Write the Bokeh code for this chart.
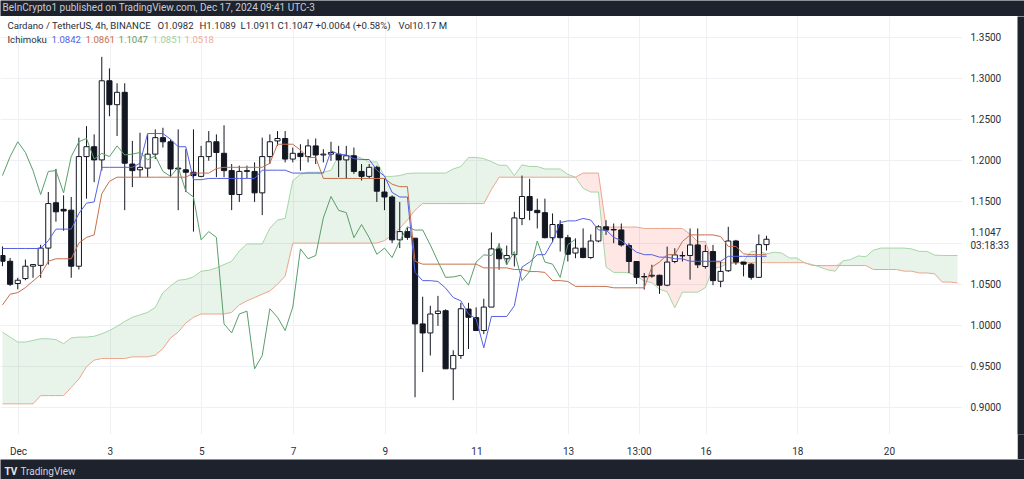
import numpy as np
from bokeh.plotting import figure
from bokeh.models import Range1d, FixedTicker, Label, ColumnDataSource
from bokeh.layouts import column, row
from bokeh.embed import file_html
from bokeh.resources import INLINE

# ---------------- data (ADA/USDT 4h) ----------------
opens = [1.085, 1.078, 1.051, 1.057, 1.072, 1.073, 1.094, 1.149, 1.141, 1.140,
         1.072, 1.205, 1.217, 1.201, 1.297, 1.268, 1.283, 1.196, 1.189, 1.191,
         1.208, 1.228, 1.223, 1.191, 1.189, 1.186, 1.181, 1.205, 1.223, 1.209,
         1.188, 1.159, 1.187, 1.187, 1.161, 1.205, 1.224, 1.227, 1.202, 1.209,
         1.205, 1.218, 1.207, 1.208, 1.208, 1.201, 1.206, 1.187, 1.181, 1.192,
         1.162, 1.156, 1.104, 1.114, 1.106, 1.002, 0.991, 1.0146, 1.018, 0.9475,
         0.9636, 1.020, 1.0096, 0.994, 1.0224, 1.093, 1.081, 1.086, 1.1298, 1.1566,
         1.1398, 1.137, 1.1066, 1.1226, 1.1066, 1.088, 1.0938, 1.0825, 1.1026, 1.1198,
         1.1166, 1.116, 1.097, 1.0777, 1.0595, 1.0600, 1.061, 1.049, 1.0777, 1.0845,
         1.085, 1.0978, 1.0717, 1.0898, 1.0537, 1.0665, 1.1026, 1.077, 1.0745, 1.0585,
         1.0982]
highs = [1.096, 1.082, 1.058, 1.080, 1.0745, 1.098, 1.162, 1.190, 1.158, 1.156,
         1.228, 1.242, 1.232, 1.326, 1.312, 1.294, 1.294, 1.224, 1.234, 1.232,
         1.238, 1.240, 1.226, 1.238, 1.214, 1.238, 1.218, 1.236, 1.232, 1.243,
         1.196, 1.194, 1.194, 1.198, 1.228, 1.232, 1.236, 1.236, 1.216, 1.220,
         1.226, 1.227, 1.214, 1.223, 1.218, 1.218, 1.216, 1.196, 1.196, 1.194,
         1.178, 1.158, 1.150, 1.119, 1.106, 1.035, 1.024, 1.036, 1.0196, 0.970,
         1.0276, 1.0276, 1.022, 1.0325, 1.113, 1.0998, 1.097, 1.138, 1.182, 1.178,
         1.154, 1.154, 1.136, 1.1278, 1.110, 1.1058, 1.1178, 1.1106, 1.1218, 1.1278,
         1.1238, 1.1238, 1.0998, 1.0777, 1.0637, 1.0737, 1.0617, 1.0958, 1.0938, 1.0898,
         1.1178, 1.1178, 1.0978, 1.0978, 1.0777, 1.1198, 1.104, 1.077, 1.0757, 1.1106,
         1.1089]
lows = [1.072, 1.048, 1.044, 1.055, 1.058, 1.058, 1.074, 1.126, 1.115, 1.058,
        1.068, 1.154, 1.174, 1.188, 1.254, 1.230, 1.140, 1.168, 1.180, 1.180,
        1.202, 1.216, 1.180, 1.140, 1.162, 1.114, 1.180, 1.200, 1.180, 1.180,
        1.140, 1.150, 1.179, 1.150, 1.134, 1.196, 1.218, 1.198, 1.198, 1.188,
        1.198, 1.196, 1.198, 1.200, 1.180, 1.178, 1.184, 1.176, 1.178, 1.150,
        1.140, 1.100, 1.094, 1.104, 0.913, 0.9435, 0.9636, 0.9996, 0.9475, 0.9095,
        0.9595, 0.9716, 0.994, 0.9896, 1.0224, 1.0677, 1.0737, 1.0717, 1.1218, 1.1278,
        1.1178, 1.1058, 1.101, 1.0898, 1.0778, 1.0817, 1.0817, 1.081, 1.101, 1.110,
        1.100, 1.0958, 1.0637, 1.0505, 1.0437, 1.058, 1.0385, 1.0477, 1.0757, 1.0777,
        1.0557, 1.0697, 1.069, 1.049, 1.0465, 1.065, 1.0737, 1.0597, 1.0557, 1.0577,
        1.0911]
closes = [1.078, 1.050, 1.055, 1.072, 1.074, 1.094, 1.148, 1.138, 1.139, 1.072,
          1.205, 1.217, 1.201, 1.297, 1.268, 1.283, 1.197, 1.188, 1.192, 1.208,
          1.228, 1.223, 1.190, 1.190, 1.186, 1.182, 1.205, 1.223, 1.210, 1.188,
          1.159, 1.187, 1.188, 1.161, 1.205, 1.223, 1.227, 1.202, 1.209, 1.205,
          1.218, 1.207, 1.208, 1.210, 1.201, 1.206, 1.187, 1.181, 1.192, 1.163,
          1.156, 1.104, 1.114, 1.107, 1.002, 0.991, 1.014, 1.0175, 0.9475, 0.9636,
          1.0204, 1.010, 0.994, 1.0224, 1.093, 1.081, 1.085, 1.1306, 1.1566, 1.1398,
          1.137, 1.1066, 1.1226, 1.1066, 1.0865, 1.094, 1.0825, 1.1026, 1.1198, 1.1158,
          1.1160, 1.0978, 1.0777, 1.0585, 1.0590, 1.0610, 1.049, 1.077, 1.0857, 1.0850,
          1.0978, 1.0737, 1.0898, 1.0545, 1.0657, 1.1026, 1.077, 1.0745, 1.0585, 1.0982,
          1.1047]

# Ichimoku lines (one value per 4h bar)
tenkan = [1.0935, 1.0935, 1.0935, 1.0935, 1.0935, 1.0935, 1.103, 1.117, 1.117, 1.117,
          1.136, 1.1485, 1.150, 1.192, 1.192, 1.192, 1.192, 1.192, 1.197, 1.233,
          1.233, 1.233, 1.226, 1.217, 1.217, 1.177, 1.177, 1.1785, 1.1785, 1.1785,
          1.1785, 1.1785, 1.1785, 1.1785, 1.1885, 1.1885, 1.1885, 1.1885, 1.185, 1.185,
          1.185, 1.185, 1.185, 1.212, 1.208, 1.207, 1.2025, 1.2015, 1.2015, 1.1885,
          1.1815, 1.1615, 1.156, 1.156, 1.0645, 1.0545, 1.0545, 1.0535, 1.0455, 1.034,
          1.030, 1.014, 1.008, 0.973, 1.011, 1.011, 1.011, 1.024, 1.071, 1.077,
          1.086, 1.086, 1.102, 1.125, 1.127, 1.127, 1.130, 1.128, 1.116, 1.116,
          1.107, 1.103, 1.096, 1.089, 1.086, 1.086, 1.083, 1.083, 1.081, 1.081,
          1.078, 1.078, 1.078, 1.078, 1.078, 1.084, 1.084, 1.084, 1.084, 1.084,
          1.084]
kijun = [1.025, 1.038, 1.040, 1.046, 1.054, 1.062, 1.078, 1.081, 1.081, 1.081,
         1.100, 1.107, 1.110, 1.160, 1.175, 1.180, 1.180, 1.180, 1.180, 1.180,
         1.180, 1.180, 1.180, 1.180, 1.180, 1.185, 1.185, 1.185, 1.1905, 1.192,
         1.192, 1.192, 1.192, 1.192, 1.192, 1.197, 1.220, 1.220, 1.220, 1.213,
         1.204, 1.204, 1.1785, 1.1785, 1.1785, 1.1785, 1.1785, 1.1785, 1.1785, 1.1785,
         1.1785, 1.1715, 1.1685, 1.1685, 1.078, 1.0745, 1.0745, 1.0745, 1.0745, 1.0745,
         1.0745, 1.0745, 1.0745, 1.070, 1.070, 1.070, 1.070, 1.068, 1.068, 1.0655,
         1.0655, 1.0645, 1.0545, 1.0545, 1.0535, 1.0475, 1.0475, 1.0475, 1.0475, 1.0475,
         1.0458, 1.0458, 1.0458, 1.0458, 1.0458, 1.071, 1.077, 1.086, 1.086, 1.102,
         1.110, 1.110, 1.110, 1.110, 1.108, 1.096, 1.096, 1.087, 1.086, 1.086,
         1.086]
# leading spans, already at their plotted (forward-shifted) bar positions
span_a = [0.992, 0.986, 0.980, 0.980, 0.982, 0.984, 0.984, 0.983, 0.978, 0.985,
          0.986, 0.986, 0.987, 0.990, 0.994, 0.999, 1.005, 1.010, 1.013, 1.016,
          1.022, 1.040, 1.048, 1.055, 1.056, 1.059, 1.066, 1.067, 1.070, 1.074,
          1.078, 1.0905, 1.099, 1.099, 1.099, 1.118, 1.128, 1.130, 1.176, 1.1835,
          1.186, 1.186, 1.186, 1.1885, 1.2065, 1.2065, 1.2065, 1.203, 1.1985, 1.1985,
          1.181, 1.181, 1.182, 1.1845, 1.185, 1.185, 1.185, 1.185, 1.185, 1.190,
          1.193, 1.204, 1.204, 1.2025, 1.199, 1.1945, 1.1945, 1.182, 1.195, 1.193,
          1.193, 1.190, 1.190, 1.190, 1.1835, 1.180, 1.1665, 1.162, 1.162, 1.071,
          1.0645, 1.0645, 1.064, 1.060, 1.054, 1.052, 1.044, 1.041, 1.0215, 1.0405,
          1.0405, 1.0405, 1.046, 1.0695, 1.071, 1.076, 1.075, 1.078, 1.090, 1.090,
          1.087, 1.089, 1.088, 1.082, 1.082, 1.076, 1.074, 1.071, 1.0675, 1.066,
          1.0785, 1.080, 1.0845, 1.0835, 1.0915, 1.094, 1.094, 1.094, 1.094, 1.093,
          1.090, 1.090, 1.0855, 1.085, 1.085, 1.085]
span_b = [0.905, 0.905, 0.905, 0.905, 0.905, 0.915, 0.915, 0.915, 0.915, 0.925,
          0.935, 0.950, 0.958, 0.960, 0.960, 0.960, 0.960, 0.962, 0.962, 0.962,
          0.964, 0.972, 0.985, 0.992, 1.003, 1.010, 1.014, 1.014, 1.014, 1.014,
          1.016, 1.025, 1.030, 1.034, 1.038, 1.042, 1.050, 1.060, 1.100, 1.100,
          1.100, 1.100, 1.100, 1.100, 1.100, 1.100, 1.100, 1.100, 1.100, 1.100,
          1.103, 1.110, 1.118, 1.128, 1.140, 1.148, 1.148, 1.148, 1.148, 1.148,
          1.148, 1.148, 1.148, 1.148, 1.165, 1.180, 1.180, 1.180, 1.180, 1.180,
          1.180, 1.180, 1.180, 1.180, 1.180, 1.180, 1.185, 1.185, 1.185, 1.1195,
          1.1195, 1.1195, 1.1195, 1.1195, 1.1178, 1.1178, 1.1178, 1.1178, 1.1178, 1.1178,
          1.1108, 1.1018, 1.1018, 1.0763, 1.0763, 1.0763, 1.0763, 1.0763, 1.0763, 1.0763,
          1.0763, 1.0763, 1.0763, 1.0763, 1.0763, 1.0763, 1.0728, 1.0728, 1.0728, 1.0728,
          1.0728, 1.0728, 1.0728, 1.0728, 1.068, 1.068, 1.068, 1.068, 1.066, 1.066,
          1.0638, 1.0638, 1.0628, 1.0528, 1.0528, 1.0518]

DISPLACEMENT = 25          # TradingView plots lagging span 25 bars back
FIRST_BAR_DAY = 0.65       # day-of-December position of the first visible bar
BAR_DAYS = 1.0 / 6.0       # 4h bars

last_price = 1.1047
countdown = "03:18:33"
price_ticks = [0.90, 0.95, 1.00, 1.05, last_price, 1.15, 1.20, 1.25, 1.30, 1.35]
price_labels = ["0.9000", "0.9500", "1.0000", "1.0500", "1.1047\n" + countdown, "1.1500",
                "1.2000", "1.2500", "1.3000", "1.3500"]
grid_price_ticks = [0.90, 0.95, 1.00, 1.05, 1.10, 1.15, 1.20, 1.25, 1.30, 1.35]
date_ticks = [1, 3, 5, 7, 9, 11, 13, 14 + 13 / 24, 16, 18, 20]
date_labels = ["Dec", "3", "5", "7", "9", "11", "13", "13:00", "16", "18", "20"]

header_text = "BeInCrypto1 published on TradingView.com, Dec 17, 2024 09:41 UTC-3"
legend_top = [("Cardano / TetherUS, 4h, BINANCE", 7), ("O1.0982", 157), ("H1.1089", 199),
              ("L1.0911", 240), ("C1.1047", 277), ("+0.0064 (+0.58%)", 315), ("Vol10.17 M", 398)]

# ---------------- style ----------------
FONT = "Roboto"
DARK = "#1e222d"
CANDLE = "#131722"
C_TENKAN = "#5560e0"
C_KIJUN = "#c4704d"
C_CHIKOU = "#5a9e6b"
C_SPAN_A = "#a5d6a7"
C_SPAN_B = "#eba68e"
legend_bottom = [("Ichimoku", 7, "#2a2e39"), ("1.0842", 51, C_TENKAN), ("1.0861", 85, C_KIJUN),
                 ("1.1047", 118, C_CHIKOU), ("1.0851", 152, "#a3cfa6"), ("1.0518", 184, "#eeae9c")]

W = 1024
HEADER_H = 16
FOOTER_H = 20
STRIP_W = 7
MAIN_W = W - STRIP_W
MAIN_H = 479 - HEADER_H - FOOTER_H
FRAME_W = 962
FRAME_H = 422
X_START, X_END = 0.607, 21.593
Y_BOTTOM, Y_TOP = 0.8678, 1.375


def px_to_day(px):
    return X_START + px * (X_END - X_START) / FRAME_W


def py_to_price(py):
    return Y_TOP - (py - HEADER_H) * (Y_TOP - Y_BOTTOM) / FRAME_H


n = len(opens)
t = FIRST_BAR_DAY + np.arange(n) * BAR_DAYS
t_lead = FIRST_BAR_DAY + np.arange(len(span_a)) * BAR_DAYS
o = np.array(opens); c = np.array(closes)
up = c >= o
src = ColumnDataSource(dict(t=t, h=highs, l=lows, top=np.maximum(o, c), bottom=np.minimum(o, c),
                            fill=np.where(up, "#ffffff", CANDLE)))

p = figure(width=MAIN_W, height=MAIN_H, x_range=Range1d(X_START, X_END), y_range=Range1d(Y_BOTTOM, Y_TOP),
           output_backend="svg", toolbar_location=None, y_axis_location="right",
           min_border_left=0, min_border_right=MAIN_W - FRAME_W, min_border_top=0,
           min_border_bottom=MAIN_H - FRAME_H, background_fill_color="white",
           border_fill_color="white", outline_line_color=None)

# grid
p.xgrid.ticker = FixedTicker(ticks=date_ticks)
p.ygrid.ticker = FixedTicker(ticks=grid_price_ticks)
p.grid.grid_line_color = "#eef0f4"
p.grid.grid_line_width = 1

# axes
p.yaxis.ticker = FixedTicker(ticks=price_ticks)
p.yaxis.major_label_overrides = {k: v for k, v in zip(price_ticks, price_labels)}
p.xaxis.ticker = FixedTicker(ticks=date_ticks)
p.xaxis.major_label_overrides = {k: v for k, v in zip(date_ticks, date_labels)}
for ax in (p.xaxis, p.yaxis):
    ax.axis_line_color = None
    ax.major_tick_line_color = None
    ax.minor_tick_line_color = None
    ax.major_tick_out = 0
    ax.major_tick_in = 0
    ax.minor_tick_out = 0
    ax.major_label_text_font = FONT
    ax.major_label_text_font_size = "10px"
    ax.major_label_text_color = "#2a2e39"
p.yaxis.major_label_standoff = 8
p.xaxis.major_label_standoff = 11

# cloud
a = np.array(span_a); b = np.array(span_b)
top_ab = np.maximum(a, b)
p.varea(x=t_lead, y1=b, y2=top_ab, fill_color="#43a047", fill_alpha=0.12)
p.varea(x=t_lead, y1=a, y2=top_ab, fill_color="#f44336", fill_alpha=0.13)
p.line(t_lead, span_a, line_color=C_SPAN_A, line_width=1)
p.line(t_lead, span_b, line_color=C_SPAN_B, line_width=1)

# candles
p.segment(x0="t", y0="l", x1="t", y1="h", line_color=CANDLE, line_width=1, source=src)
p.vbar(x="t", width=0.112, top="top", bottom="bottom", fill_color="fill", line_color=CANDLE,
       line_width=1, source=src)

# lines
p.line(t[:n - DISPLACEMENT], closes[DISPLACEMENT:], line_color=C_CHIKOU, line_width=1)
p.line(t, kijun, line_color=C_KIJUN, line_width=1)
p.line(t, tenkan, line_color=C_TENKAN, line_width=1)

# legend texts
for txt, x in legend_top:
    p.add_layout(Label(x=px_to_day(x), y=py_to_price(25.5), text=txt, text_font=FONT,
                       text_font_size="9.6px", text_color="#2a2e39", text_baseline="middle"))
for txt, x, col in legend_bottom:
    p.add_layout(Label(x=px_to_day(x), y=py_to_price(39.5), text=txt, text_font=FONT,
                       text_font_size="9.6px", text_color=col, text_baseline="middle"))


def dark_box(w, h):
    f = figure(width=w, height=h, x_range=Range1d(0, w), y_range=Range1d(0, h),
               output_backend="svg", toolbar_location=None, min_border=0,
               background_fill_color=DARK, border_fill_color=DARK, outline_line_color=None)
    f.axis.visible = False
    f.grid.visible = False
    return f


header = dark_box(W, HEADER_H)
header.add_layout(Label(x=2, y=HEADER_H - 7, text=header_text, text_font=FONT, text_font_size="10px",
                        text_color="#c9ccd4", text_baseline="middle"))
strip = dark_box(STRIP_W, MAIN_H)
footer = dark_box(W, FOOTER_H)
footer.add_layout(Label(x=4, y=FOOTER_H - 12, text="TV", text_font=FONT, text_font_size="10px",
                        text_font_style="bold", text_color="#e6e8ee", text_baseline="middle"))
footer.add_layout(Label(x=20, y=FOOTER_H - 12, text="TradingView", text_font=FONT, text_font_size="10px",
                        text_color="#d1d4dc", text_baseline="middle"))

layout = column(header, row(p, strip), footer)
open("out.html", "w").write(file_html(layout, INLINE))
